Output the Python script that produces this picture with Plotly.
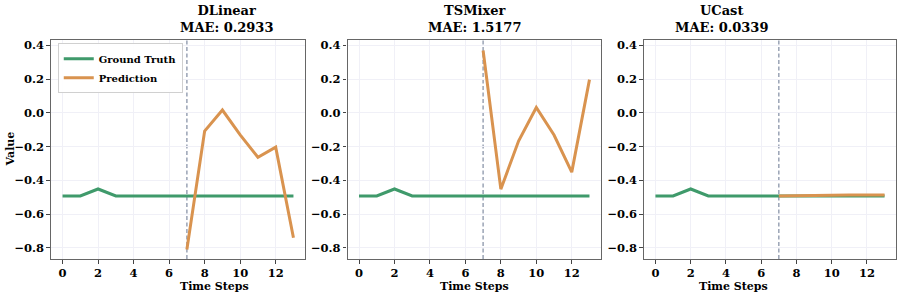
import plotly.graph_objects as go

# ---- data ----
time_steps = list(range(14))
ground_truth = [-0.492, -0.492, -0.451, -0.492, -0.492, -0.492, -0.492,
                -0.492, -0.492, -0.492, -0.492, -0.492, -0.492, -0.492]
pred_steps = list(range(7, 14))
pred_dlinear = [-0.81, -0.108, 0.017, -0.13, -0.263, -0.203, -0.74]
pred_tsmixer = [0.37, -0.452, -0.167, 0.032, -0.131, -0.351, 0.197]
pred_ucast = [-0.492, -0.490, -0.488, -0.485, -0.486, -0.487, -0.487]
models = ["DLinear", "TSMixer", "UCast"]
mae_values = ["0.2933", "1.5177", "0.0339"]
preds = [pred_dlinear, pred_tsmixer, pred_ucast]
split_step = 7
x_ticks = [0, 2, 4, 6, 8, 10, 12]
y_ticks = [-0.8, -0.6, -0.4, -0.2, 0.0, 0.2, 0.4]

# ---- style ----
GREEN = "#3f9a6b"
ORANGE = "#d9934f"
FONT = "DejaVu Serif"
W, H = 904, 294
L, R, T, B = 51, 8, 40, 35
panels_px = [(51, 305), (347.5, 601), (644, 896)]
plot_w = W - L - R
plot_h = H - T - B
domains = [[(a - L) / plot_w, (b - L) / plot_w] for a, b in panels_px]

fig = go.Figure()
for i, (m, mae, p) in enumerate(zip(models, mae_values, preds)):
    xa = "x" if i == 0 else f"x{i+1}"
    ya = "y" if i == 0 else f"y{i+1}"
    fig.add_trace(go.Scatter(x=time_steps, y=ground_truth, mode="lines",
                             line=dict(color=GREEN, width=3), name="<b>Ground Truth</b>",
                             showlegend=(i == 0), xaxis=xa, yaxis=ya))
    fig.add_trace(go.Scatter(x=pred_steps, y=p, mode="lines",
                             line=dict(color=ORANGE, width=3), name="<b>Prediction</b>",
                             showlegend=(i == 0), xaxis=xa, yaxis=ya))
    fig.add_shape(type="line", x0=split_step, x1=split_step, y0=0, y1=1,
                  xref=xa, yref=f"{ya} domain",
                  line=dict(color="#9aa3b5", width=1.5, dash="4px,2.5px"), layer="below")
    cx = (domains[i][0] + domains[i][1]) / 2
    fig.add_annotation(text=f"<b>{m}</b><br><b>MAE: {mae}</b>", x=cx, y=1,
                       xref="paper", yref="paper", yanchor="bottom", yshift=3,
                       showarrow=False, font=dict(family=FONT, size=13, color="black"))
    fig.add_annotation(text="<b>Time Steps</b>", x=cx, y=0, xref="paper", yref="paper",
                       yanchor="top", yshift=-19, showarrow=False,
                       font=dict(family=FONT, size=11, color="black"))
    axis_common = dict(showline=True, mirror=True, linecolor="#666", linewidth=1.2,
                       ticks="outside", ticklen=3.5, tickcolor="#444", automargin=False,
                       showgrid=True, gridcolor="#f0f0f7", gridwidth=1, zeroline=False,
                       tickfont=dict(family=FONT, size=11.5, color="black"))
    xkey = "xaxis" if i == 0 else f"xaxis{i+1}"
    ykey = "yaxis" if i == 0 else f"yaxis{i+1}"
    fig.update_layout({
        xkey: dict(domain=domains[i], anchor=ya, range=[-0.65, 13.65],
                   tickvals=x_ticks, ticktext=[f"<b>{v}</b>" for v in x_ticks],
                   **axis_common),
        ykey: dict(domain=[0, 1], anchor=xa, range=[-0.866, 0.432],
                   tickvals=y_ticks,
                   ticktext=[f"<b>{v:.1f}</b>".replace("-", "\u2212") for v in y_ticks],
                   **axis_common),
    })

fig.add_annotation(text="<b>Value</b>", x=0, y=0.5, xref="paper", yref="paper",
                   xanchor="center", yanchor="middle", xshift=-41, textangle=-90,
                   showarrow=False, font=dict(family=FONT, size=11, color="black"))

fig.update_layout(
    width=W, height=H,
    margin=dict(l=L, r=R, t=T, b=B, autoexpand=False),
    plot_bgcolor="white", paper_bgcolor="white",
    font=dict(family=FONT, color="black"),
    legend=dict(x=0.008, y=0.985, xanchor="left", yanchor="top",
                bgcolor="rgba(255,255,255,0.9)", bordercolor="#d0d0d0", borderwidth=1,
                font=dict(family=FONT, size=10, color="black"),
                tracegroupgap=0, itemwidth=30),
)

fig.write_html("out.html", config={"displayModeBar": False},
               post_script="document.body.style.margin='0';document.body.style.overflow='hidden';")
